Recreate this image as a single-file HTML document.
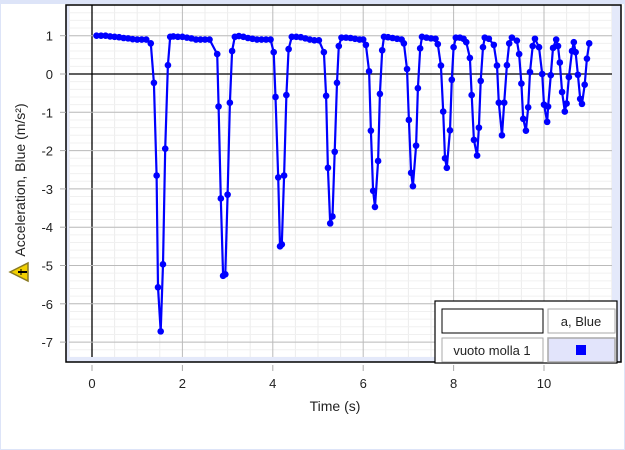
<!DOCTYPE html>
<html><head><meta charset="utf-8"><style>
body{margin:0;background:#fff;}
svg{display:block;font-family:"Liberation Sans","DejaVu Sans",sans-serif;}
</style></head><body>
<svg id="chart" width="625" height="450" viewBox="0 0 625 450">
<rect x="0.5" y="0.5" width="624" height="449" fill="#fff" stroke="#dde4f8"/>
<rect x="0" y="0" width="625" height="4" fill="#dde4f8"/>
<g id="grid"></g>
<g id="series"></g>
<rect x="612" y="5" width="9" height="357" fill="#e4e9fa"/>
<rect x="66" y="357" width="555" height="5" fill="#e4e9fa"/>
<rect x="66" y="5" width="3" height="357" fill="#e4e9fa"/>
<rect x="66" y="5" width="555" height="357" fill="none" stroke="#000" stroke-width="1.5"/>
<g id="ticks"></g>
<text x="335" y="411" font-size="14" text-anchor="middle" fill="#222">Time (s)</text>
<text transform="translate(25,180) rotate(-90)" font-size="14" text-anchor="middle" fill="#222">Acceleration, Blue (m/s²)</text>
<g>
<polygon points="10,272 28,263 28,281" fill="#f2d000" stroke="#8a7a20" stroke-width="1.5"/>
<line x1="18" y1="272" x2="27" y2="272" stroke="#000" stroke-width="2"/>
<line x1="21" y1="269" x2="21" y2="275" stroke="#000" stroke-width="1"/>
</g>
<g>
<rect x="435" y="301" width="182" height="62" fill="#fff" stroke="#000" stroke-width="1.2"/>
<rect x="442" y="309" width="101" height="24" fill="#fff" stroke="#000"/>
<rect x="548" y="309" width="67" height="24" fill="#fff" stroke="#aaa"/>
<text x="581" y="326" font-size="13" text-anchor="middle" fill="#222">a, Blue</text>
<rect x="442" y="338" width="101" height="24" fill="#fff" stroke="#aaa"/>
<text x="492" y="355" font-size="13" text-anchor="middle" fill="#222">vuoto molla 1</text>
<rect x="548" y="338" width="67" height="24" fill="#e2e4fb" stroke="#aaa" stroke-width="1.5"/>
<rect x="576" y="345" width="10" height="10" fill="#0000ff"/>
</g>
</svg>
<script>
const xTicks=[0,2,4,6,8,10];
const yTicks=[1,0,-1,-2,-3,-4,-5,-6,-7];
const times=[0.1,0.2,0.3,0.4,0.5,0.6,0.7,0.8,0.9,1.0,1.1,1.2,1.3,1.37,1.43,1.46,1.52,1.57,1.62,1.68,1.73,1.8,1.9,2.0,2.1,2.2,2.3,2.4,2.5,2.6,2.77,2.8,2.85,2.9,2.95,3.0,3.05,3.1,3.16,3.25,3.35,3.45,3.55,3.65,3.75,3.85,3.95,4.02,4.06,4.12,4.16,4.2,4.25,4.3,4.35,4.42,4.52,4.62,4.72,4.82,4.92,5.02,5.13,5.18,5.22,5.27,5.32,5.37,5.42,5.46,5.52,5.62,5.72,5.82,5.92,6.0,6.06,6.13,6.17,6.22,6.26,6.33,6.37,6.42,6.46,6.55,6.65,6.75,6.85,6.9,6.97,7.01,7.06,7.1,7.17,7.21,7.26,7.3,7.4,7.5,7.6,7.65,7.72,7.77,7.81,7.85,7.92,7.96,8.0,8.05,8.14,8.22,8.28,8.36,8.4,8.45,8.52,8.56,8.6,8.65,8.69,8.78,8.89,8.96,9.0,9.07,9.12,9.18,9.23,9.29,9.4,9.45,9.5,9.54,9.6,9.65,9.69,9.75,9.8,9.89,9.96,10.0,10.07,10.09,10.15,10.2,10.27,10.31,10.35,10.4,10.46,10.5,10.55,10.62,10.66,10.7,10.75,10.8,10.84,10.9,10.95,11.0];
const accel=[1.0,1.0,1.0,0.98,0.97,0.96,0.94,0.93,0.91,0.9,0.9,0.9,0.8,-0.23,-2.65,-5.57,-6.72,-4.97,-1.95,0.23,0.97,0.98,0.97,0.97,0.95,0.93,0.9,0.9,0.9,0.9,0.52,-0.85,-3.25,-5.27,-5.23,-3.15,-0.75,0.6,0.97,0.99,0.97,0.94,0.92,0.9,0.9,0.9,0.9,0.57,-0.6,-2.7,-4.5,-4.45,-2.65,-0.55,0.65,0.97,0.97,0.96,0.93,0.9,0.88,0.88,0.57,-0.57,-2.45,-3.9,-3.72,-2.03,-0.23,0.73,0.95,0.95,0.94,0.92,0.9,0.9,0.76,0.07,-1.48,-3.05,-3.47,-2.27,-0.52,0.62,0.97,0.96,0.94,0.92,0.9,0.8,0.13,-1.2,-2.58,-2.93,-1.87,-0.37,0.67,0.97,0.95,0.93,0.92,0.78,0.22,-0.98,-2.2,-2.45,-1.47,-0.15,0.7,0.95,0.95,0.92,0.83,0.42,-0.55,-1.72,-2.13,-1.4,-0.18,0.7,0.95,0.92,0.76,0.22,-0.75,-1.6,-0.75,0.23,0.8,0.95,0.87,0.52,-0.25,-1.17,-1.48,-0.87,0.05,0.73,0.92,0.7,0.0,-0.8,-1.25,-0.85,-0.03,0.68,0.9,0.73,0.3,-0.47,-0.98,-0.77,-0.08,0.6,0.83,0.57,-0.02,-0.65,-0.78,-0.28,0.4,0.8];
const X0=92,XS=45.2,Y0=74,YS=38.3;
function sx(v){return X0+v*XS;}
function sy(v){return Y0-v*YS;}
const NS='http://www.w3.org/2000/svg';
function mk(tag,attrs,parent){const e=document.createElementNS(NS,tag);for(const k in attrs)e.setAttribute(k,attrs[k]);parent.appendChild(e);return e;}
const grid=document.getElementById('grid'),ticks=document.getElementById('ticks'),series=document.getElementById('series');
for(let v=-0.5;v<=11.5;v+=0.5){if(Math.abs(v-Math.round(v/2)*2)<1e-6)continue;const l=mk('line',{x1:sx(v),x2:sx(v),y1:5,y2:362,stroke:'#ececec','stroke-width':1},grid);}
for(let v=-7.4;v<=1.8;v+=0.2){const l=mk('line',{x1:66,x2:621,y1:sy(v),y2:sy(v),stroke:'#f0f0f0','stroke-width':1},grid);}
xTicks.forEach(t=>{const l=mk('line',{x1:sx(t),x2:sx(t),y1:5,y2:362,stroke:t===0?'#000':'#bbb','stroke-width':t===0?1.3:1},grid);
const tk=mk('line',{x1:sx(t),x2:sx(t),y1:365,y2:371,stroke:'#aaa'},ticks);
const tx=mk('text',{x:sx(t),y:388,'font-size':13,'text-anchor':'middle',fill:'#222'},ticks);tx.textContent=t;});
yTicks.forEach(t=>{const l=mk('line',{x1:66,x2:621,y1:sy(t),y2:sy(t),stroke:t===0?'#000':'#bbb','stroke-width':t===0?1.3:1},grid);
const tk=mk('line',{x1:60,x2:66,y1:sy(t),y2:sy(t),stroke:'#aaa'},ticks);
const tx=mk('text',{x:53,y:sy(t)+5,'font-size':13,'text-anchor':'end',fill:'#222'},ticks);tx.textContent=t;});
let d='';times.forEach((t,i)=>{d+=(i?'L':'M')+sx(t).toFixed(1)+' '+sy(accel[i]).toFixed(1);});
const path=mk('path',{d:d,fill:'none',stroke:'#0000ff','stroke-width':2.2,'stroke-linejoin':'round'},series);


times.forEach((t,i)=>{const c=mk('circle',{cx:sx(t),cy:sy(accel[i]),r:3.3,fill:'#0000ff'},series);

});
</script>
</body></html>
